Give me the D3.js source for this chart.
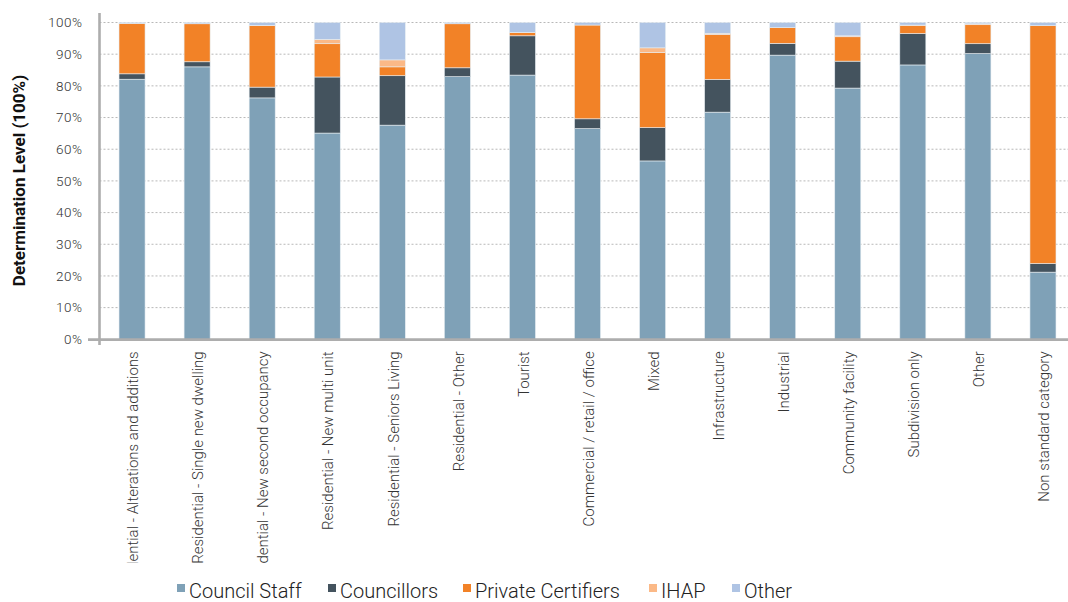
<!DOCTYPE html>
<html>
<head>
<meta charset="utf-8">
<script src="https://cdn.jsdelivr.net/npm/d3@7"></script>
<style>
  html, body { margin: 0; padding: 0; background: #fff; }
  svg { display: block; }
  .tick-label { font-family: Roboto, "Liberation Sans", sans-serif; font-weight: 300; fill: #333; }
</style>
</head>
<body>
<svg id="chart" width="1068" height="602"></svg>
<script>
// Development categories along the x axis
const categories = [
  "Residential - Alterations and additions",
  "Residential - Single new dwelling",
  "Residential - New second occupancy",
  "Residential - New multi unit",
  "Residential - Seniors Living",
  "Residential - Other",
  "Tourist",
  "Commercial / retail / office",
  "Mixed",
  "Infrastructure",
  "Industrial",
  "Community facility",
  "Subdivision only",
  "Other",
  "Non standard category"
];

// Share of determinations (%) by determining body
const councilStaff       = [82.1, 86.0, 76.2, 65.1, 67.6, 82.9, 83.4, 66.5, 56.3, 71.7, 89.7, 79.3, 86.6, 90.2, 21.2];
const councillors        = [ 1.7,  1.6,  3.4, 17.7, 15.6,  2.8, 12.4,  3.1, 10.5, 10.3,  3.7,  8.5,  9.9,  3.1,  2.7];
const privateCertifiers  = [15.9, 12.0, 19.4, 10.5,  2.8, 13.9,  1.0, 29.6, 23.7, 14.2,  5.0,  7.7,  2.5,  6.0, 75.1];
const ihap               = [ 0.0,  0.0,  0.1,  1.4,  2.2,  0.0,  0.1,  0.0,  1.5,  0.4,  0.0,  0.3,  0.2,  0.3,  0.0];
const other              = [ 0.3,  0.4,  0.9,  5.3, 11.8,  0.4,  3.1,  0.8,  8.0,  3.4,  1.6,  4.2,  0.8,  0.4,  1.0];

const seriesNames = ["Council Staff", "Councillors", "Private Certifiers", "IHAP", "Other"];
const seriesValues = [councilStaff, councillors, privateCertifiers, ihap, other];
const seriesColors = ["#7fa1b7", "#44535e", "#f28227", "#fbb987", "#afc4e4"];

const yTicks = [0, 10, 20, 30, 40, 50, 60, 70, 80, 90, 100];

const svg = d3.select("#chart");
const W = 1068, H = 602;
const margin = { left: 99.5, right: -7.5, top: 22.5, bottom: 262.7 };
const plotBottom = H - margin.bottom;

// rows for the stack layout
const rows = categories.map((c, i) => {
  const r = { category: c };
  seriesNames.forEach((s, j) => { r[s] = seriesValues[j][i]; });
  return r;
});

const x = d3.scaleBand()
  .domain(categories)
  .range([margin.left, W - margin.right])
  .paddingInner(0.6)
  .paddingOuter(0.3);

const y = d3.scaleLinear()
  .domain([0, 100])
  .range([plotBottom, margin.top]);

const color = d3.scaleOrdinal().domain(seriesNames).range(seriesColors);

// dotted horizontal gridlines
svg.append("g")
  .selectAll("line")
  .data(yTicks.filter(t => t > 0))
  .join("line")
  .attr("x1", margin.left)
  .attr("x2", W)
  .attr("y1", d => y(d))
  .attr("y2", d => y(d))
  .attr("stroke", "#b8b8b8")
  .attr("stroke-width", 1)
  .attr("stroke-dasharray", "2,2");

// stacked bars
const stacked = d3.stack().keys(seriesNames)(rows);
svg.append("g")
  .selectAll("g")
  .data(stacked)
  .join("g")
  .attr("fill", d => color(d.key))
  .selectAll("rect")
  .data(d => d)
  .join("rect")
  .attr("x", d => x(d.data.category))
  .attr("width", x.bandwidth())
  .attr("y", d => y(d[1]))
  .attr("height", d => Math.max(0, y(d[0]) - y(d[1])))
  .attr("stroke", "#e6edf2")
  .attr("stroke-width", 0.6);

// y axis labels
const yAxis = d3.axisLeft(y)
  .tickValues(yTicks)
  .tickFormat(d => d + "%")
  .tickSize(0)
  .tickPadding(17);
const yg = svg.append("g")
  .attr("transform", `translate(${margin.left},0)`)
  .call(yAxis);
yg.select(".domain").remove();
yg.selectAll("text")
  .attr("class", "tick-label")
  .style("font-size", "13.5px")
  .style("letter-spacing", "0.5px");

// x axis labels, rotated; the long ones are clipped at the bottom
svg.append("clipPath").attr("id", "xlabel-clip")
  .append("rect").attr("x", 0).attr("y", plotBottom).attr("width", W).attr("height", 563 - plotBottom);

const xAxis = d3.axisBottom(x).tickSize(0).tickPadding(0);
const xg = svg.append("g")
  .attr("clip-path", "url(#xlabel-clip)")
  .append("g")
  .attr("transform", `translate(0,${plotBottom})`)
  .call(xAxis);
xg.select(".domain").remove();
xg.selectAll("text")
  .attr("class", "tick-label")
  .style("font-size", "15px")
  .attr("text-anchor", "end")
  .attr("dy", "0.35em")
  .attr("transform", "translate(1,12) rotate(-90)")
  .attr("x", 0)
  .attr("y", 0);

// axis lines
svg.append("line")
  .attr("x1", margin.left).attr("x2", margin.left)
  .attr("y1", 13).attr("y2", 345)
  .attr("stroke", "#adadad").attr("stroke-width", 2.6);
svg.append("line")
  .attr("x1", 88).attr("x2", W)
  .attr("y1", plotBottom + 0.3).attr("y2", plotBottom + 0.3)
  .attr("stroke", "#adadad").attr("stroke-width", 2.6);

// y axis title
svg.append("text")
  .attr("transform", `translate(25,180.5) rotate(-90)`)
  .attr("text-anchor", "middle")
  .style("font-family", "Roboto, 'Liberation Sans', sans-serif")
  .style("font-weight", "700")
  .style("font-size", "17px")
  .style("fill", "#111")
  .text("Determination Level (100%)");

// legend
const legendX = [177, 328, 463, 649, 732];
const legend = svg.append("g");
seriesNames.forEach((s, i) => {
  legend.append("rect")
    .attr("x", legendX[i]).attr("y", 584)
    .attr("width", 8).attr("height", 8)
    .attr("fill", color(s));
  legend.append("text")
    .attr("x", legendX[i] + 12).attr("y", 597.5)
    .style("font-family", "Roboto, 'Liberation Sans', sans-serif")
    .style("font-weight", "300")
    .style("font-size", "20px")
    .style("fill", "#222")
    .text(s);
});
</script>
</body>
</html>
